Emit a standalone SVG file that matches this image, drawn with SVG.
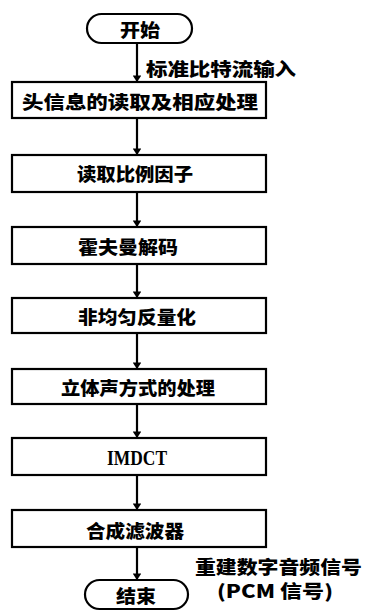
<svg xmlns="http://www.w3.org/2000/svg" width="366" height="611" viewBox="0 0 366 611">
<defs>
<style>
.box{fill:#fff;stroke:#000;stroke-width:2.2}
.t{font-family:"Noto Sans CJK SC","Noto Sans CJK JP",sans-serif;font-weight:900;font-size:18px;fill:#000;text-anchor:middle;dominant-baseline:central}
.l{font-family:"Noto Sans CJK SC","Noto Sans CJK JP",sans-serif;font-weight:900;font-size:18px;fill:#000;dominant-baseline:central}
.s{font-family:"Liberation Serif",serif;font-weight:bold;font-size:20px;fill:#000;text-anchor:middle;dominant-baseline:central}
.c{stroke:#000;stroke-width:2.2;fill:none;marker-end:url(#ah)}
</style>
<marker id="ah" viewBox="0 0 6 8" refX="6" refY="4" markerWidth="3" markerHeight="4" orient="auto" markerUnits="strokeWidth">
<path d="M0,0 L6,4 L0,8 z" fill="#000"/>
</marker>
</defs>
<rect width="366" height="611" fill="#fff"/>
<g id="connectors">
<line class="c" x1="137" y1="43" x2="137" y2="82"/>
<line class="c" x1="137" y1="118" x2="137" y2="155"/>
<line class="c" x1="137" y1="192" x2="137" y2="227"/>
<line class="c" x1="137" y1="264" x2="137" y2="298"/>
<line class="c" x1="137" y1="333" x2="137" y2="369"/>
<line class="c" x1="137" y1="404" x2="137" y2="438"/>
<line class="c" x1="137" y1="475" x2="137" y2="510"/>
<line class="c" x1="137" y1="547" x2="137" y2="580"/>
<text class="l" x="146" y="68" textLength="150" lengthAdjust="spacingAndGlyphs">标准比特流输入</text>
<text class="l" x="195" y="566" textLength="167" lengthAdjust="spacingAndGlyphs">重建数字音频信号</text>
<text class="l" x="217" y="590" textLength="116" lengthAdjust="spacingAndGlyphs">(PCM 信号)</text>
</g>
<g id="start">
<rect class="box" x="87" y="14" width="105" height="29" rx="14.5"/>
<text class="t" x="140" y="29" textLength="40" lengthAdjust="spacingAndGlyphs">开始</text>
</g>
<g id="n1">
<rect class="box" x="12" y="82" width="254" height="36"/>
<text class="t" x="140" y="101" textLength="236" lengthAdjust="spacingAndGlyphs">头信息的读取及相应处理</text>
</g>
<g id="n2">
<rect class="box" x="12" y="155" width="254" height="37"/>
<text class="t" x="135" y="173" textLength="116" lengthAdjust="spacingAndGlyphs">读取比例因子</text>
</g>
<g id="n3">
<rect class="box" x="12" y="227" width="254" height="37"/>
<text class="t" x="128" y="246" textLength="100" lengthAdjust="spacingAndGlyphs">霍夫曼解码</text>
</g>
<g id="n4">
<rect class="box" x="12" y="298" width="254" height="35"/>
<text class="t" x="137" y="316" textLength="118" lengthAdjust="spacingAndGlyphs">非均匀反量化</text>
</g>
<g id="n5">
<rect class="box" x="12" y="369" width="254" height="35"/>
<text class="t" x="138" y="387" textLength="154" lengthAdjust="spacingAndGlyphs">立体声方式的处理</text>
</g>
<g id="n6">
<rect class="box" x="12" y="438" width="254" height="37"/>
<text class="s" x="137" y="458" textLength="60" lengthAdjust="spacingAndGlyphs">IMDCT</text>
</g>
<g id="n7">
<rect class="box" x="12" y="510" width="254" height="37"/>
<text class="t" x="135" y="530" textLength="98" lengthAdjust="spacingAndGlyphs">合成滤波器</text>
</g>
<g id="end">
<rect class="box" x="85" y="580" width="103" height="29" rx="14.5"/>
<text class="t" x="136" y="595" textLength="40" lengthAdjust="spacingAndGlyphs">结束</text>
</g>
</svg>
